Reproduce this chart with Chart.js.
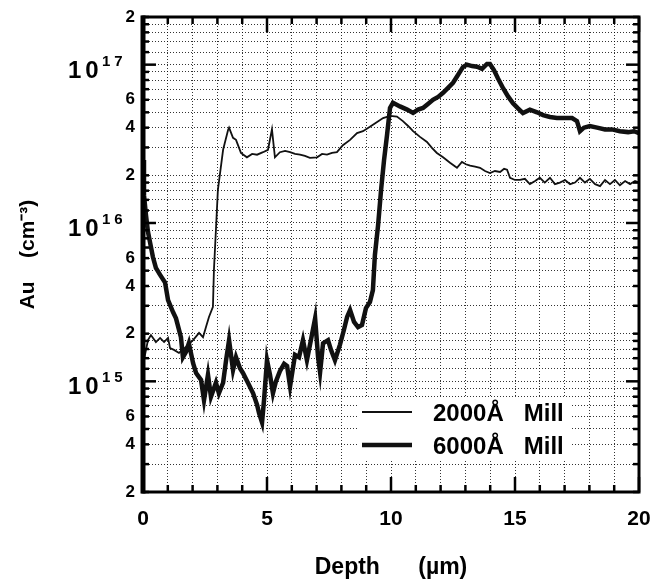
<!DOCTYPE html>
<html>
<head>
<meta charset="utf-8">
<script src="https://cdn.jsdelivr.net/npm/chart.js@4"></script>
<style>
  body { margin: 0; background: #fff; }
</style>
</head>
<body>
<canvas id="au-profile" width="657" height="581"></canvas>
<script>
// [depth (um), Au concentration (cm^-3)]
const thinProfile = [
  [0, 1.7e15], [0.08, 1.47e15], [0.2, 1.82e15], [0.32, 1.96e15], [0.52, 1.77e15], [0.69, 1.88e15],
  [0.85, 1.77e15], [1.01, 1.88e15], [1.09, 1.62e15], [1.25, 1.58e15], [1.45, 1.51e15], [1.73, 1.65e15],
  [2.02, 1.82e15], [2.26, 2.02e15], [2.42, 1.9e15], [2.54, 2.2e15], [2.66, 2.55e15], [2.82, 2.95e15],
  [2.86, 5.05e15], [2.94, 9.0e15], [3.02, 1.62e16], [3.23, 2.9e16], [3.43, 3.87e16], [3.47, 4.0e16],
  [3.63, 3.45e16], [3.75, 3.35e16], [3.95, 2.77e16], [4.19, 2.6e16], [4.4, 2.73e16], [4.6, 2.7e16],
  [4.84, 2.8e16], [5.04, 2.9e16], [5.2, 3.9e16], [5.32, 2.6e16], [5.52, 2.8e16], [5.73, 2.85e16],
  [5.93, 2.8e16], [6.13, 2.73e16], [6.33, 2.7e16], [6.53, 2.65e16], [6.73, 2.58e16], [7.02, 2.6e16],
  [7.22, 2.73e16], [7.42, 2.7e16], [7.62, 2.77e16], [7.82, 2.8e16], [8.06, 3.1e16], [8.35, 3.35e16],
  [8.63, 3.7e16], [8.87, 3.8e16], [9.15, 4.05e16], [9.44, 4.35e16], [9.68, 4.6e16], [9.96, 4.75e16],
  [10.24, 4.7e16], [10.48, 4.4e16], [10.69, 4.1e16], [10.89, 3.8e16], [11.17, 3.5e16], [11.45, 3.25e16],
  [11.65, 2.98e16], [11.85, 2.77e16], [12.1, 2.6e16], [12.38, 2.4e16], [12.66, 2.23e16], [12.86, 2.43e16],
  [13.02, 2.35e16], [13.19, 2.3e16], [13.39, 2.27e16], [13.59, 2.23e16], [13.79, 2.13e16], [13.99, 2.07e16],
  [14.19, 2.13e16], [14.4, 2.1e16], [14.56, 2.2e16], [14.68, 2.17e16], [14.8, 1.93e16], [15.0, 1.87e16],
  [15.2, 1.87e16], [15.4, 1.9e16], [15.6, 1.76e16], [15.81, 1.84e16], [16.0, 1.93e16], [16.2, 1.8e16],
  [16.41, 1.93e16], [16.61, 1.76e16], [16.81, 1.8e16], [17.02, 1.87e16], [17.22, 1.76e16], [17.42, 1.8e16],
  [17.62, 1.93e16], [17.82, 1.8e16], [18.02, 1.9e16], [18.23, 1.76e16], [18.43, 1.71e16], [18.63, 1.87e16],
  [18.83, 1.76e16], [19.03, 1.87e16], [19.23, 1.73e16], [19.44, 1.84e16], [19.64, 1.76e16], [19.84, 1.84e16],
  [20.0, 1.8e16]
];

const thickProfile = [
  [0, 2.5e16], [0.04, 1.5e16], [0.12, 1.12e16], [0.2, 8.8e15], [0.28, 7.6e15], [0.4, 6.1e15],
  [0.52, 5.2e15], [0.69, 4.7e15], [0.89, 4.2e15], [1.01, 3.26e15], [1.21, 2.74e15], [1.33, 2.5e15],
  [1.53, 1.9e15], [1.61, 1.42e15], [1.73, 1.53e15], [1.85, 1.74e15], [2.02, 1.3e15], [2.14, 1.13e15],
  [2.34, 1.02e15], [2.46, 7.6e14], [2.62, 1.1e15], [2.74, 8.0e14], [2.94, 9.8e14], [3.06, 8.4e14],
  [3.23, 9.8e14], [3.35, 1.36e15], [3.47, 1.82e15], [3.63, 1.18e15], [3.75, 1.42e15], [3.91, 1.21e15],
  [4.03, 1.13e15], [4.23, 9.8e14], [4.44, 8.4e14], [4.6, 7.1e14], [4.68, 6.3e14], [4.8, 5.5e14],
  [4.88, 7.6e14], [5.0, 1.36e15], [5.12, 1.1e15], [5.24, 8.4e14], [5.36, 1.0e15], [5.52, 1.16e15],
  [5.69, 1.29e15], [5.81, 1.25e15], [5.93, 9.3e14], [6.13, 1.47e15], [6.29, 1.42e15], [6.45, 1.82e15],
  [6.61, 1.36e15], [6.77, 1.82e15], [6.94, 2.5e15], [7.06, 1.42e15], [7.14, 1.14e15], [7.26, 1.74e15],
  [7.46, 1.82e15], [7.58, 1.58e15], [7.74, 1.36e15], [7.94, 1.7e15], [8.1, 2.11e15], [8.23, 2.55e15],
  [8.35, 2.82e15], [8.51, 2.37e15], [8.67, 2.2e15], [8.83, 2.27e15], [8.99, 2.9e15], [9.15, 3.17e15],
  [9.27, 3.77e15], [9.35, 6.26e15], [9.48, 9.7e15], [9.6, 1.62e16], [9.72, 2.5e16], [9.84, 3.6e16],
  [9.96, 5.33e16], [10.08, 5.74e16], [10.36, 5.45e16], [10.65, 5.2e16], [10.89, 4.96e16], [11.09, 5.2e16],
  [11.29, 5.33e16], [11.49, 5.65e16], [11.69, 6.0e16], [11.9, 6.26e16], [12.1, 6.64e16], [12.3, 7.14e16],
  [12.5, 7.68e16], [12.7, 8.6e16], [12.9, 9.66e16], [13.06, 1.0e17], [13.27, 9.8e16], [13.47, 9.7e16],
  [13.67, 9.4e16], [13.87, 1.01e17], [13.99, 1.01e17], [14.15, 9.25e16], [14.31, 8.2e16], [14.52, 7.1e16],
  [14.72, 6.3e16], [14.92, 5.7e16], [15.12, 5.3e16], [15.32, 4.95e16], [15.6, 5.2e16], [15.89, 5.0e16],
  [16.13, 4.8e16], [16.41, 4.67e16], [16.69, 4.6e16], [17.02, 4.6e16], [17.3, 4.6e16], [17.5, 4.4e16],
  [17.62, 3.8e16], [17.78, 4.0e16], [18.02, 4.1e16], [18.31, 4.0e16], [18.63, 3.9e16], [18.91, 3.9e16],
  [19.23, 3.8e16], [19.56, 3.75e16], [19.8, 3.8e16], [20.0, 3.7e16]
];

const seriesLabels = ['2000Å   Mill', '6000Å   Mill'];

// axis ticks / gridlines
const xMin = 0, xMax = 20;
const xLabelValues = [0, 5, 10, 15, 20];
const yMin = 2e14, yMax = 2e17;
const yDecades = [1e14, 1e15, 1e16, 1e17];
const yMantissas = [1, 1.2, 1.4, 1.6, 1.8, 2, 3, 4, 5, 6, 7, 8, 9];
const yLabelMantissas = [2, 4, 6];
const decadeValues = [1e15, 1e16, 1e17];
const decadeExponents = ['15', '16', '17'];

const yGridValues = [];
yDecades.forEach(d => yMantissas.forEach(m => {
  const v = +(m * d).toPrecision(3);
  if (v >= yMin && v <= yMax) yGridValues.push(v);
}));

function yLabelFor(v) {
  const exp = Math.floor(Math.log10(v) + 1e-9);
  const m = +(v / Math.pow(10, exp)).toFixed(2);
  return yLabelMantissas.includes(m) ? String(m) : '';
}

const legendBox = {
  id: 'legendBox',
  afterDatasetsDraw(chart) {
    const ctx = chart.ctx;
    ctx.save();
    ctx.fillStyle = '#fff';
    ctx.fillRect(357, 397, 214, 62);
    ctx.font = 'bold 24px "Liberation Sans", Arial, sans-serif';
    ctx.textBaseline = 'middle';
    ctx.fillStyle = '#000';
    const rows = [412, 445];
    chart.data.datasets.forEach((ds, i) => {
      ctx.strokeStyle = ds.borderColor;
      ctx.lineWidth = ds.borderWidth;
      ctx.beginPath();
      ctx.moveTo(362, rows[i]);
      ctx.lineTo(412, rows[i]);
      ctx.stroke();
      ctx.fillText(ds.label, 433, rows[i] + 2);
    });
    ctx.restore();
  }
};

const frameAndTicks = {
  id: 'frameAndTicks',
  afterDraw(chart) {
    const {ctx, chartArea: a, scales: {x, y}} = chart;
    const seg = (x1, y1, x2, y2) => {
      ctx.beginPath();
      ctx.moveTo(x1, y1);
      ctx.lineTo(x2, y2);
      ctx.stroke();
    };
    ctx.save();
    ctx.strokeStyle = '#000';
    ctx.lineWidth = 2.5;
    for (let v = xMin; v <= xMax; v++) {
      const px = x.getPixelForValue(v);
      const len = v % 5 === 0 ? 15 : 7;
      seg(px, a.bottom, px, a.bottom - len);
      seg(px, a.top, px, a.top + len);
    }
    yGridValues.forEach(v => {
      const py = y.getPixelForValue(v);
      const len = decadeValues.includes(v) ? 13 : 6;
      seg(a.left, py, a.left + len, py);
      seg(a.right, py, a.right - len, py);
    });
    ctx.lineWidth = 3;
    ctx.strokeRect(a.left, a.top, a.right - a.left, a.bottom - a.top);
    ctx.lineWidth = 5;
    seg(a.left, a.top - 1.5, a.left, a.bottom + 1.5);

    // decade labels 10^n
    ctx.fillStyle = '#000';
    ctx.textBaseline = 'alphabetic';
    ctx.textAlign = 'left';
    ctx.letterSpacing = '4px';
    decadeValues.forEach((v, i) => {
      const py = y.getPixelForValue(v);
      ctx.font = 'bold 24px "Liberation Sans", Arial, sans-serif';
      ctx.fillText('10', 68, py + 13);
      ctx.font = 'bold 15px "Liberation Sans", Arial, sans-serif';
      ctx.fillText(decadeExponents[i], 102, py + 1);
    });
    ctx.restore();
  }
};

const ctx = document.getElementById('au-profile').getContext('2d');
const chart = new Chart(ctx, {
  type: 'line',
  data: {
    datasets: [{
      label: seriesLabels[0],
      data: thinProfile.map(p => ({x: p[0], y: p[1]})),
      borderColor: '#111',
      borderWidth: 1.8,
      pointRadius: 0,
      tension: 0
    }, {
      label: seriesLabels[1],
      data: thickProfile.map(p => ({x: p[0], y: p[1]})),
      borderColor: '#111',
      borderWidth: 4.5,
      pointRadius: 0,
      tension: 0
    }]
  },
  options: {
    responsive: false,
    animation: false,
    layout: {padding: {top: 17, right: 18, left: 0, bottom: 0}},
    plugins: {
      legend: {display: false},
      tooltip: {enabled: false}
    },
    scales: {
      x: {
        type: 'linear',
        min: xMin,
        max: xMax,
        afterFit: s => { s.height = 89; s.paddingLeft = 0; s.paddingRight = 0; },
        grid: {color: 'rgba(0,0,0,0.8)', lineWidth: 1, drawTicks: false},
        border: {display: false, dash: [1, 2]},
        ticks: {
          stepSize: 1,
          autoSkip: false,
          maxRotation: 0,
          padding: 15,
          color: '#000',
          font: {family: '"Liberation Sans", Arial, sans-serif', size: 21, weight: 'bold'},
          callback: v => xLabelValues.includes(v) ? String(v) : ''
        },
        title: {
          display: true,
          text: 'Depth      (µm)',
          color: '#000',
          font: {family: '"Liberation Sans", Arial, sans-serif', size: 23, weight: 'bold'},
          padding: {top: 0, bottom: 0}
        }
      },
      y: {
        type: 'logarithmic',
        min: yMin,
        max: yMax,
        afterFit: s => { s.width = 143; s.paddingTop = 0; s.paddingBottom = 0; },
        afterBuildTicks: s => { s.ticks = yGridValues.map(v => ({value: v})); },
        grid: {color: 'rgba(0,0,0,0.8)', lineWidth: 1, drawTicks: false},
        border: {display: false, dash: [1, 2]},
        ticks: {
          autoSkip: false,
          padding: 8,
          color: '#000',
          font: {family: '"Liberation Sans", Arial, sans-serif', size: 17, weight: 'bold'},
          callback: v => yLabelFor(v)
        },
        title: {
          display: true,
          text: 'Au    (cm⁻³)',
          color: '#000',
          font: {family: '"Liberation Sans", Arial, sans-serif', size: 21, weight: 'bold'},
          padding: {top: 16, bottom: 0}
        }
      }
    }
  },
  plugins: [legendBox, frameAndTicks]
});
</script>
</body>
</html>
